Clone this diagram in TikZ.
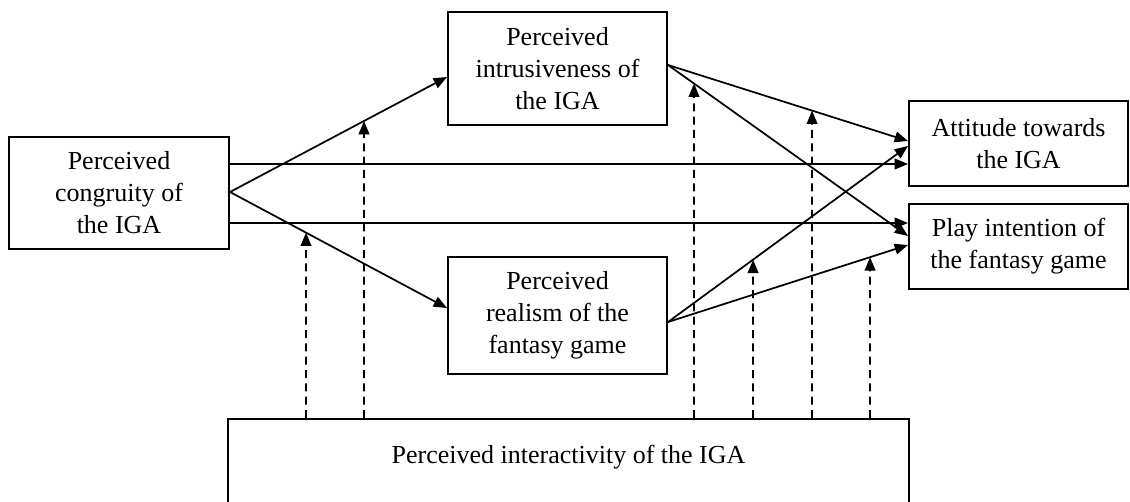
\documentclass[tikz,border=0pt]{standalone}
\usepackage{fontspec}
\setmainfont{Liberation Serif}
\usetikzlibrary{arrows.meta,calc}
\begin{document}
\begin{tikzpicture}[x=0.75pt,y=-0.75pt,
  box/.style={draw,line width=1.5pt,inner sep=0pt,align=center,font=\fontsize{19.5}{24}\selectfont},
  arr/.style={line width=1.3pt,-{Triangle[length=10pt,width=8pt]}},
  darr/.style={line width=1.3pt,dash pattern=on 6pt off 4pt,-{Triangle[length=10pt,width=8pt]}}]
\useasboundingbox (0,0) rectangle (1130,502);
\fill[white] (0,0) rectangle (1130,502);

\node[box,minimum width=165pt,minimum height=84pt] (cong) at (119,193) {Perceived\\congruity of\\the IGA};
\node[box,minimum width=164.25pt,minimum height=84.75pt] (intr) at (557.5,68.5) {Perceived\\intrusiveness of\\the IGA};
\node[box,minimum width=164.25pt,minimum height=87.75pt] (real) at (557.5,315.5) {Perceived\\realism of the\\fantasy game};
\node[box,minimum width=164.25pt,minimum height=63.75pt] (att) at (1018.5,143.5) {Attitude towards\\the IGA};
\node[box,minimum width=164.25pt,minimum height=63.75pt] (play) at (1018.5,246.5) {Play intention of\\the fantasy game};
\node[box,minimum width=510.75pt,text height=33pt,text depth=36pt,anchor=north] (inter) at (568.5,418) {Perceived interactivity of the IGA};

% connection points
\coordinate (cR)  at (cong.east |- 0,192);
\coordinate (cR1) at (cong.east |- 0,164);
\coordinate (cR2) at (cong.east |- 0,223);
\coordinate (iL)  at (intr.west |- 0,77);
\coordinate (iR)  at (intr.east |- 0,65);
\coordinate (rL)  at (real.west |- 0,308);
\coordinate (rR)  at (real.east |- 0,322);
\coordinate (a1)  at (att.west |- 0,141);
\coordinate (a2)  at (att.west |- 0,146);
\coordinate (a3)  at (att.west |- 0,164);
\coordinate (p1)  at (play.west |- 0,223);
\coordinate (p2)  at (play.west |- 0,236);
\coordinate (p3)  at (play.west |- 0,245);

\draw[arr] (cR) -- (iL);
\draw[arr] (cR) -- (rL);
\draw[arr] (cR1) -- (a3);
\draw[arr] (cR2) -- (p1);
\draw[arr] (iR) -- (a1);
\draw[arr] (iR) -- (p2);
\draw[arr] (rR) -- (a2);
\draw[arr] (rR) -- (p3);

% moderating arrows
\coordinate (b1) at (inter.north -| 306,0);  \coordinate (h1) at (306,0);
\coordinate (b2) at (inter.north -| 364,0);  \coordinate (h2) at (364,0);
\coordinate (b3) at (inter.north -| 694,0);  \coordinate (h3) at (694,0);
\coordinate (b4) at (inter.north -| 753,0);  \coordinate (h4) at (753,0);
\coordinate (b5) at (inter.north -| 812,0);  \coordinate (h5) at (812,0);
\coordinate (b6) at (inter.north -| 870,0);  \coordinate (h6) at (870,0);
\coordinate (e1) at (intersection of b1--h1 and cR--rL);
\coordinate (e2) at (intersection of b2--h2 and cR--iL);
\coordinate (e3) at (intersection of b3--h3 and iR--p2);
\coordinate (e4) at (intersection of b4--h4 and rR--a2);
\coordinate (e5) at (intersection of b5--h5 and iR--a1);
\coordinate (e6) at (intersection of b6--h6 and rR--p3);
\draw[darr] (b1) -- (e1);
\draw[darr] (b2) -- (e2);
\draw[darr] (b3) -- (e3);
\draw[darr] (b4) -- (e4);
\draw[darr] (b5) -- (e5);
\draw[darr] (b6) -- (e6);
\end{tikzpicture}
\end{document}
